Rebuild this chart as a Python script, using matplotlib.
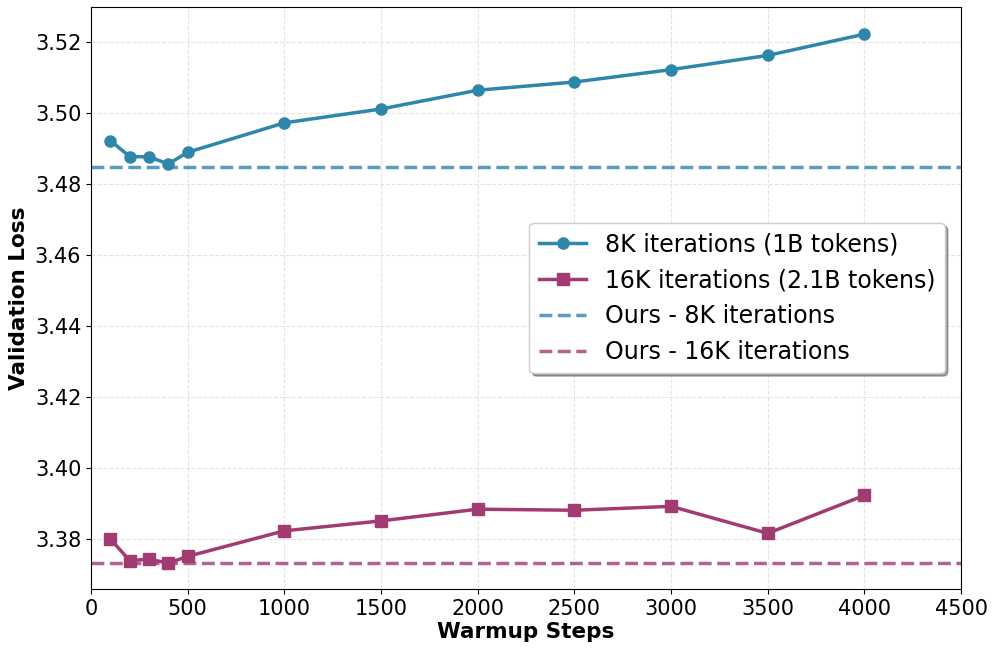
import matplotlib
matplotlib.use("Agg")
import matplotlib.pyplot as plt

warmup_steps = [100, 200, 300, 400, 500, 1000, 1500, 2000, 2500, 3000, 3500, 4000]
loss_8k = [3.4923, 3.4878, 3.4877, 3.4857, 3.4890, 3.4973, 3.5012, 3.5065, 3.5088, 3.5123, 3.5163, 3.5223]
loss_16k = [3.3800, 3.3739, 3.3743, 3.3732, 3.3751, 3.3823, 3.3851, 3.3884, 3.3881, 3.3892, 3.3816, 3.3923]
ours_8k = 3.4848
ours_16k = 3.3732

labels = ["8K iterations (1B tokens)", "16K iterations (2.1B tokens)",
          "Ours - 8K iterations", "Ours - 16K iterations"]
blue = "#2E86AB"
magenta = "#A23B72"

fig = plt.figure(figsize=(9.97, 6.53), dpi=100)
ax = fig.add_axes([0.0913, 0.098, 0.8727, 0.891])

ax.plot(warmup_steps, loss_8k, color=blue, marker="o", markersize=8, linewidth=2.5, label=labels[0])
ax.plot(warmup_steps, loss_16k, color=magenta, marker="s", markersize=8, linewidth=2.5, label=labels[1])
ax.axhline(ours_8k, color=blue, linestyle="--", linewidth=2.5, alpha=0.8, label=labels[2])
ax.axhline(ours_16k, color=magenta, linestyle="--", linewidth=2.5, alpha=0.8, label=labels[3])

ax.set_xlim(0, 4500)
ax.set_ylim(3.3659, 3.5299)
ax.set_xticks(range(0, 4501, 500))
ax.set_yticks([3.38, 3.40, 3.42, 3.44, 3.46, 3.48, 3.50, 3.52])
ax.set_yticklabels(["3.38", "3.40", "3.42", "3.44", "3.46", "3.48", "3.50", "3.52"])
ax.tick_params(labelsize=15)
ax.grid(True, linestyle="--", color="lightgray", alpha=0.6, linewidth=0.8)
ax.set_xlabel("Warmup Steps", fontsize=15.5, fontweight="bold", labelpad=2)
ax.set_ylabel("Validation Loss", fontsize=15.5, fontweight="bold")

ax.legend(loc="center right", fontsize=17, frameon=True, shadow=True, fancybox=True,
          framealpha=1, bbox_to_anchor=(0.995, 0.5))

fig.savefig("out.png", dpi=100)
